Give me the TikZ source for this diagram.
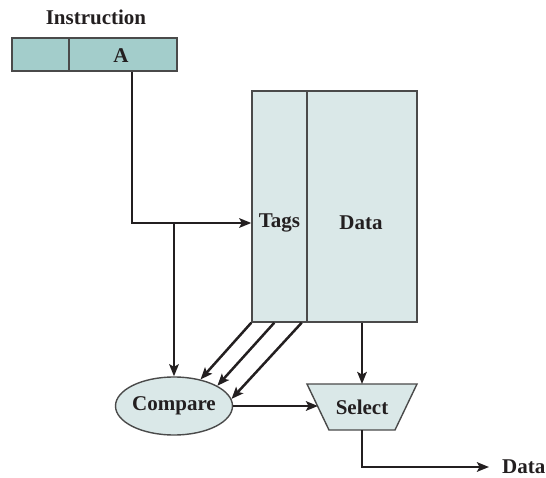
\documentclass[tikz,border=0pt]{standalone}
\usepackage{fontspec}
\setmainfont{Liberation Serif}
\usetikzlibrary{arrows.meta,shapes.geometric,calc}
\definecolor{instfill}{HTML}{A3CDCB}
\definecolor{lightfill}{HTML}{DAE8E8}
\definecolor{edge}{HTML}{4A4A4A}
\definecolor{ink}{HTML}{231F20}
\tikzset{
  lbl/.style={font=\fontsize{21}{24}\selectfont\bfseries, text=ink, inner sep=0pt},
  ibox/.style={draw=edge, line width=1.4pt, fill=instfill, minimum height=33pt, inner sep=0pt},
  cbox/.style={draw=edge, line width=1.4pt, fill=lightfill, minimum height=231pt, inner sep=0pt},
  arr/.style={draw=ink, line width=2.5pt, -{Stealth[length=12pt,width=9.5pt,inset=2.5pt]}},
}
\begin{document}
\begin{tikzpicture}[x=1pt,y=-1pt]
\useasboundingbox (0,0) rectangle (546,478);
% instruction
\node[lbl] (instT) at (96,17) {Instruction};
\node[ibox, minimum width=57pt] (iL) at (40.5,54.5) {};
\node[ibox, minimum width=108pt] (iA) at (123,54.5) {};
\node[lbl] (iAT) at (121,56) {A};
% cache
\node[cbox, minimum width=55pt] (tags) at (279.5,206.5) {};
\node[cbox, minimum width=110pt] (data) at (362,206.5) {};
\node[lbl] (tagsT) at (279.5,223) {Tags};
\node[lbl] (dataT) at (361,223) {Data};
% compare
\node[draw=edge, line width=1.4pt, fill=lightfill, ellipse, minimum width=117pt, minimum height=58pt, inner sep=0pt] (cmp) at (174,406) {};
\node[lbl] at (cmp.center) {Compare};
% select (trapezoid)
\coordinate (stl) at (307,384);
\coordinate (str) at (417,384);
\coordinate (sbr) at (395,430);
\coordinate (sbl) at (329,430);
\draw[draw=edge, line width=1.4pt, fill=lightfill] (stl) -- (str) -- (sbr) -- (sbl) -- cycle;
\coordinate (stop) at ($(stl)!0.5!(str)$);
\coordinate (sbot) at ($(sbl)!0.5!(sbr)$);
\coordinate (sleft) at ($(stl)!0.5!(sbl)$);
\node[lbl] (sel) at ($(stop)!0.5!(sbot)$) {Select};
\node[lbl, anchor=west] (dataOut) at (502,467) {Data};
% connectors
\coordinate (ia) at ($(iA.south)+(9,0)$);
\draw[arr] (ia) |- (tagsT -| tags.west);
\draw[arr] (cmp.north |- tagsT) -- (cmp.north);
\draw[arr] (tags.south west) -- (cmp.45);
\draw[arr] ($(tags.south west)+(23,0)$) -- (cmp.25);
\draw[arr] ($(tags.south east)+(-6,0)$) -- (cmp.7);
\draw[arr] (stop |- data.south) -- (stop);
\draw[arr] (cmp.east) -- (cmp.east -| sleft);
\draw[arr] (sbot) |- ([xshift=-13pt]dataOut.west);
\end{tikzpicture}
\end{document}
